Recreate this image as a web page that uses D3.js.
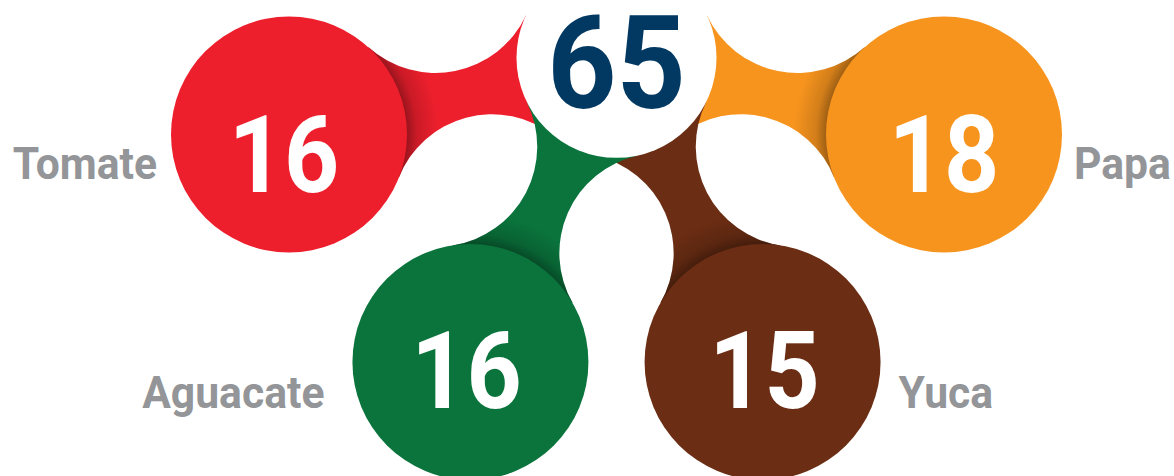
<!DOCTYPE html>
<html lang="es">
<head>
<meta charset="UTF-8">
<title>Cultivos</title>
<script src="https://d3js.org/d3.v7.min.js"></script>
<style>
  html, body { margin: 0; padding: 0; background: #fff; overflow: hidden; }
  text { font-family: Roboto, "Open Sans", sans-serif; font-weight: 700; }
</style>
</head>
<body>
<div id="chart"></div>
<script>
// data
const categories = ["Tomate", "Papa", "Aguacate", "Yuca"];
const values = [16, 18, 16, 15];
const colors = ["#ee1f2d", "#f7941e", "#0a743c", "#6b2d13"];
const totalValue = 65;

// layout, in grid units (turned into pixels by the scales below)
const slotCol = [-1, 1, -0.446, 0.446];
const slotRow = [0, 0, 1, 1];
const labelSide = ["left", "right", "left", "right"];
const labelGap = [14, 12, 28, 18];
const valueDx = [-5, 0, -4, 2];
const valueDy = [57, 57, 46, 46];
const labelDy = [44, 44, 46, 46];
const hubSlot = {col: 0, row: -0.337};
const drawOrder = [0, 1, 3, 2]; // green connector sits on top

const width = 1174, height = 476;
const rNode = 118, rHub = 100, rCut = 100;

const svg = d3.select("#chart").append("svg")
    .attr("width", width)
    .attr("height", height);

const x = d3.scaleLinear().domain([-1, 1]).range([289, 944]);
const y = d3.scaleLinear().domain([0, 1]).range([134.5, 362]);

const hub = {cx: x(hubSlot.col), cy: y(hubSlot.row), r: rHub};
const nodes = categories.map((name, i) => ({
    name, value: values[i], color: colors[i],
    cx: x(slotCol[i]), cy: y(slotRow[i]), r: rNode,
    side: labelSide[i], i
}));

// two circles of radius rCut touching both the node and the hub
function cutCircles(a, b) {
    const dx = b.cx - a.cx, dy = b.cy - a.cy, d = Math.hypot(dx, dy);
    const ux = dx / d, uy = dy / d, nx = -uy, ny = ux;
    const ra = a.r + rCut, rb = b.r + rCut;
    const along = (ra * ra - rb * rb + d * d) / (2 * d);
    const h = Math.sqrt(ra * ra - along * along);
    return [1, -1].map(s => ({x: a.cx + along * ux + s * h * nx, y: a.cy + along * uy + s * h * ny}));
}
function touch(n, c) {
    const dx = c.x - n.cx, dy = c.y - n.cy, d = Math.hypot(dx, dy);
    return [n.cx + dx / d * n.r, n.cy + dy / d * n.r];
}
function sweep(c, p, q) {
    return ((p[0] - c.x) * (q[1] - c.y) - (p[1] - c.y) * (q[0] - c.x)) > 0 ? 1 : 0;
}
function connectorPath(n) {
    const [c1, c2] = cutCircles(n, hub);
    const p1 = touch(n, c1), q1 = touch(hub, c1), q2 = touch(hub, c2), p2 = touch(n, c2);
    return `M${p1}A${rCut},${rCut} 0 0 ${sweep(c1, p1, q1)} ${q1}` +
           `L${q2}A${rCut},${rCut} 0 0 ${sweep(c2, q2, p2)} ${p2}Z`;
}

const defs = svg.append("defs");

// connectors + soft shadow next to each circle
drawOrder.forEach(i => {
    const n = nodes[i];
    const d = connectorPath(n);
    defs.append("clipPath").attr("id", "clip" + i).append("path").attr("d", d);

    const outer = n.r + 32;
    const g = defs.append("radialGradient")
        .attr("id", "shade" + i)
        .attr("gradientUnits", "userSpaceOnUse")
        .attr("cx", n.cx).attr("cy", n.cy).attr("r", outer);
    g.append("stop").attr("offset", n.r / outer).attr("stop-color", "#000").attr("stop-opacity", 0.35);
    g.append("stop").attr("offset", (n.r + 10) / outer).attr("stop-color", "#000").attr("stop-opacity", 0.15);
    g.append("stop").attr("offset", 1).attr("stop-color", "#000").attr("stop-opacity", 0);

    svg.append("path").attr("d", d).attr("fill", n.color);
    svg.append("circle")
        .attr("cx", n.cx).attr("cy", n.cy).attr("r", outer)
        .attr("fill", `url(#shade${i})`)
        .attr("clip-path", `url(#clip${i})`);
});

// hub
svg.append("circle")
    .attr("cx", hub.cx).attr("cy", hub.cy).attr("r", hub.r)
    .attr("fill", "#fff");

svg.append("text")
    .attr("transform", `translate(${hub.cx},${hub.cy + 50}) scale(0.93,1)`)
    .attr("text-anchor", "middle")
    .style("font-size", "130px")
    .attr("fill", "#023962")
    .text(totalValue);

// nodes
svg.selectAll(".node")
  .data(nodes)
  .enter().append("circle")
    .attr("class", "node")
    .attr("cx", d => d.cx)
    .attr("cy", d => d.cy)
    .attr("r", d => d.r)
    .attr("fill", d => d.color);

svg.selectAll(".value")
  .data(nodes)
  .enter().append("text")
    .attr("class", "value")
    .attr("transform", d => `translate(${d.cx + valueDx[d.i]},${d.cy + valueDy[d.i]}) scale(0.9,1)`)
    .attr("text-anchor", "middle")
    .style("font-size", "107px")
    .attr("fill", "#fff")
    .text(d => d.value);

svg.selectAll(".label")
  .data(nodes)
  .enter().append("text")
    .attr("class", "label")
    .attr("transform", d => {
        const lx = d.side === "left" ? d.cx - d.r - labelGap[d.i] : d.cx + d.r + labelGap[d.i];
        return `translate(${lx},${d.cy + labelDy[d.i]}) scale(0.97,1)`;
    })
    .attr("text-anchor", d => d.side === "left" ? "end" : "start")
    .style("font-size", "44px")
    .attr("fill", "#939598")
    .text(d => d.name);
</script>
</body>
</html>
